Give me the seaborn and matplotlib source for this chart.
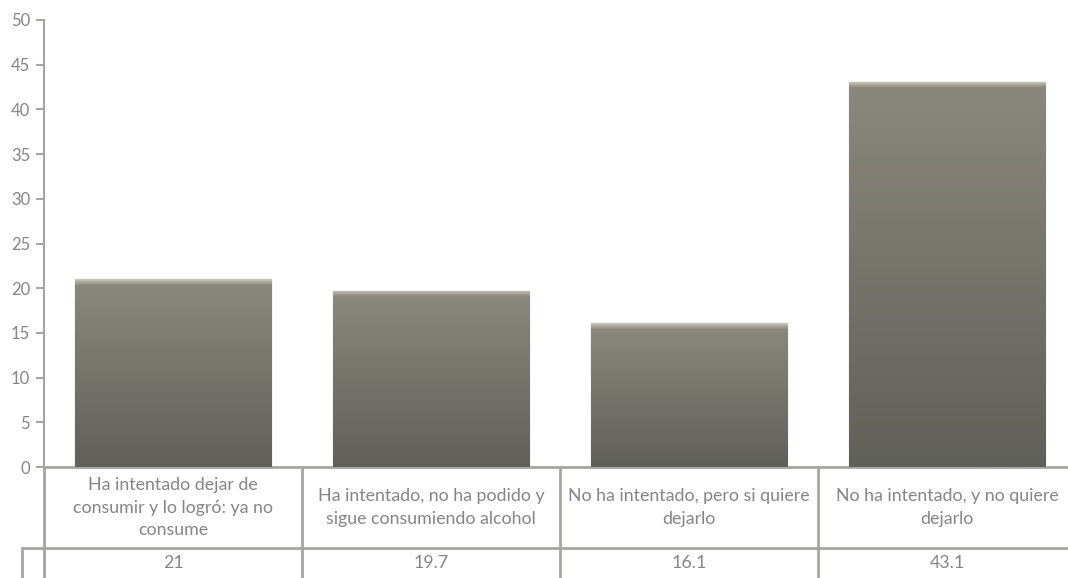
import matplotlib.pyplot as plt
import matplotlib.transforms as mtransforms
import numpy as np
import pandas as pd
import seaborn as sns
from matplotlib.colors import LinearSegmentedColormap

categories = [
    "Ha intentado dejar de\nconsumir y lo logró: ya no\nconsume",
    "Ha intentado, no ha podido y\nsigue consumiendo alcohol",
    "No ha intentado, pero si quiere\ndejarlo",
    "No ha intentado, y no quiere\ndejarlo",
]
values = [21, 19.7, 16.1, 43.1]
value_labels = ["21", "19.7", "16.1", "43.1"]
y_ticks = [0, 5, 10, 15, 20, 25, 30, 35, 40, 45, 50]

TEXT = "#858585"
LINE = "#a6a6a0"

sns.set_theme(style="white")
plt.rcParams["font.family"] = ["Lato", "DejaVu Sans"]

df = pd.DataFrame({"cat": [str(i) for i in range(len(values))], "val": values})

W, H = 1068, 578
fig = plt.figure(figsize=(W / 100, H / 100), dpi=100)
ax = fig.add_axes([44 / W, 111 / H, 1032 / W, 447 / H])

sns.barplot(data=df, x="cat", y="val", color="#77766c", width=0.76, ax=ax,
            edgecolor="#5a5a54", linewidth=0.8, zorder=2)

ax.set_xlim(-0.5, 3.5)
ax.set_ylim(0, 50)

# vertical gradient clipped to each bar, with a thin light bevel on top
px_per_unit = 447 / 50
grad = np.linspace(0, 1, 512).reshape(-1, 1)
for bar in ax.patches:
    x0, y0 = bar.get_x(), bar.get_y()
    x1, y1 = x0 + bar.get_width(), y0 + bar.get_height()
    h_px = bar.get_height() * px_per_unit
    b1, b2 = 2.5 / h_px, 6 / h_px
    cm = LinearSegmentedColormap.from_list(
        "bevel", [(0.0, "#c8c6ba"), (b1, "#aeac9f"), (b2, "#8a887c"),
                  (1.0, "#60605a")])
    im = ax.imshow(grad, extent=[x0, x1, y0, y1], origin="upper", aspect="auto",
                   cmap=cm, zorder=3, interpolation="bilinear")
    im.set_clip_path(bar)
ax.set_xlim(-0.5, 3.5)
ax.set_ylim(0, 50)

ax.set_yticks(y_ticks)
ax.set_xticks([])
ax.set_xlabel("")
ax.set_ylabel("")
for s in ["top", "right"]:
    ax.spines[s].set_visible(False)
ax.spines["left"].set_color(LINE)
ax.spines["left"].set_linewidth(1.5)
ax.spines["bottom"].set_color(LINE)
ax.spines["bottom"].set_linewidth(2)
ax.tick_params(axis="y", direction="out", length=6, width=1.5, color=LINE,
               labelcolor=TEXT, labelsize=12, pad=4, left=True)

# data table under the axis
trans = mtransforms.blended_transform_factory(ax.transData, ax.transAxes)
row_mid = (467 - 548) / 447
row_bot = (467 - 578) / 447
left_cell = -0.5 - 22 / 258
kw = dict(color=LINE, linewidth=2, transform=trans, clip_on=False, zorder=5)
ax.plot([left_cell, 3.6], [row_mid, row_mid], **kw)
ax.plot([left_cell, left_cell], [row_mid, row_bot], **kw)
for b in [-0.5, 0.5, 1.5, 2.5, 3.5]:
    ax.plot([b, b], [0, row_bot], **kw)

for i, (c, v) in enumerate(zip(categories, value_labels)):
    ax.text(i, row_mid / 2, c, transform=trans, ha="center", va="center",
            color=TEXT, fontsize=12.8, linespacing=1.5)
    ax.text(i, (row_mid + row_bot) / 2, v, transform=trans, ha="center",
            va="center", color=TEXT, fontsize=12.8)

fig.savefig("out.png", dpi=100)
